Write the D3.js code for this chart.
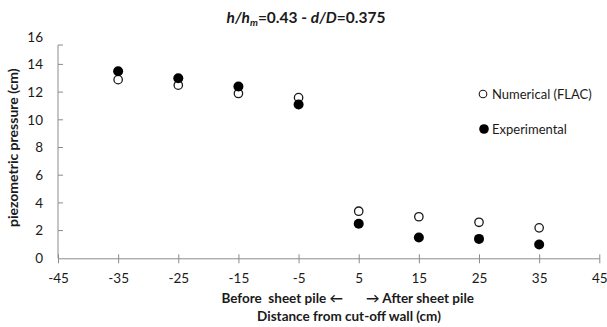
<!DOCTYPE html>
<html>
<head>
<meta charset="utf-8">
<script src="https://cdn.jsdelivr.net/npm/d3@7"></script>
<style>
  body { margin: 0; background: #fff; }
  svg { display: block; }
  text { font-family: Lato, "Open Sans", "Liberation Sans", sans-serif; fill: #1a1a1a; }
</style>
</head>
<body>
<svg id="chart" width="607" height="327"></svg>
<script>
// Distance from the cut-off wall (cm)
const distances = [-35, -25, -15, -5, 5, 15, 25, 35];
// Piezometric pressure (cm)
const numericalFLAC = [12.9, 12.5, 11.9, 11.6, 3.4, 3.0, 2.6, 2.2];
const experimental = [13.5, 13.0, 12.4, 11.1, 2.5, 1.5, 1.4, 1.0];
const xTicks = [-45, -35, -25, -15, -5, 5, 15, 25, 35, 45];
const yTicks = [0, 2, 4, 6, 8, 10, 12, 14, 16];
const seriesNames = ["Numerical (FLAC)", "Experimental"];

const svg = d3.select("#chart");
const axisColor = "#8c8c8c";
const plain = d => String(d); // hyphen-minus, as in the printed axis

const x = d3.scaleLinear().domain([-45, 45]).range([58, 599.3]);
const y = d3.scaleLinear().domain([0, 16]).range([258.3, 36.7]);
const plotTop = 45;

// Title
const title = svg.append("text")
  .attr("x", 306).attr("y", 23)
  .attr("text-anchor", "middle")
  .style("font-size", "15.5px").style("font-weight", "bold");
title.append("tspan").style("font-style", "italic").text("h/h");
title.append("tspan").style("font-style", "italic").style("font-size", "10px").attr("dy", 3).text("m");
title.append("tspan").attr("dy", -3).text("=0.43 - ");
title.append("tspan").style("font-style", "italic").text("d/D");
title.append("tspan").text("=0.375");

// Y axis: labels from the axis generator, line and inward ticks drawn alongside
const yAxis = svg.append("g")
  .attr("transform", `translate(${x(-45)},0)`)
  .call(d3.axisLeft(y).tickValues(yTicks).tickFormat(plain).tickSize(0).tickPadding(15));
yAxis.select(".domain").remove();
yAxis.selectAll("text").style("font-size", "13.5px").style("font-family", "Lato, sans-serif").attr("fill", "#1a1a1a");

svg.append("line")
  .attr("x1", x(-45)).attr("x2", x(-45))
  .attr("y1", y(0)).attr("y2", plotTop)
  .attr("stroke", axisColor).attr("stroke-width", 1);
svg.selectAll(".ytick")
  .data(yTicks.filter(v => v > 0 && y(v) >= plotTop))
  .enter().append("line")
  .attr("x1", x(-45)).attr("x2", x(-45) + 5)
  .attr("y1", d => y(d)).attr("y2", d => y(d))
  .attr("stroke", axisColor);
svg.append("line")
  .attr("x1", x(-45)).attr("x2", x(-45) + 5)
  .attr("y1", plotTop).attr("y2", plotTop)
  .attr("stroke", axisColor);

// X axis along zero pressure, ticks crossing the line
const xAxis = svg.append("g")
  .attr("transform", `translate(0,${y(0)})`)
  .call(d3.axisBottom(x).tickValues(xTicks).tickFormat(plain).tickSizeInner(4).tickSizeOuter(0).tickPadding(11));
xAxis.select(".domain").attr("stroke", axisColor);
xAxis.selectAll(".tick line").attr("stroke", axisColor).attr("y1", -4).attr("y2", 5);
xAxis.selectAll("text").style("font-size", "13.5px").style("font-family", "Lato, sans-serif").attr("fill", "#1a1a1a");

// Axis titles
svg.append("text")
  .attr("transform", `translate(18,${(y(0) + plotTop) / 2 - 4}) rotate(-90)`)
  .attr("text-anchor", "middle")
  .style("font-size", "14px").style("font-weight", "bold")
  .text("piezometric pressure (cm)");

svg.append("text")
  .attr("x", 343).attr("y", 303)
  .attr("text-anchor", "end")
  .style("font-size", "13.5px").style("font-weight", "bold")
  .text("Before\u00a0 sheet pile \u2190");
svg.append("text")
  .attr("x", 366).attr("y", 303)
  .attr("text-anchor", "start")
  .style("font-size", "13.5px").style("font-weight", "bold")
  .text("\u2192 After sheet pile");
svg.append("text")
  .attr("x", 349).attr("y", 321)
  .attr("text-anchor", "middle")
  .style("font-size", "13.5px").style("font-weight", "bold")
  .text("Distance from cut-off wall (cm)");

// Data points
const pts = distances.map((d, i) => ({ d, num: numericalFLAC[i], exp: experimental[i] }));

svg.append("g").selectAll("circle")
  .data(pts).enter().append("circle")
  .attr("cx", p => x(p.d)).attr("cy", p => y(p.num))
  .attr("r", 4.2)
  .attr("fill", "#fff").attr("stroke", "#1a1a1a").attr("stroke-width", 1.3);

svg.append("g").selectAll("circle")
  .data(pts).enter().append("circle")
  .attr("cx", p => x(p.d)).attr("cy", p => y(p.exp))
  .attr("r", 5)
  .attr("fill", "#000");

// Legend
const legend = svg.append("g");
legend.append("circle").attr("cx", 483).attr("cy", 94).attr("r", 3.8)
  .attr("fill", "#fff").attr("stroke", "#1a1a1a").attr("stroke-width", 1.1);
legend.append("text").attr("x", 492).attr("y", 94).attr("dy", "0.35em")
  .style("font-size", "13px").text(seriesNames[0]);
legend.append("circle").attr("cx", 484).attr("cy", 129).attr("r", 4.8).attr("fill", "#000");
legend.append("text").attr("x", 492).attr("y", 129).attr("dy", "0.35em")
  .style("font-size", "13px").text(seriesNames[1]);
</script>
</body>
</html>
